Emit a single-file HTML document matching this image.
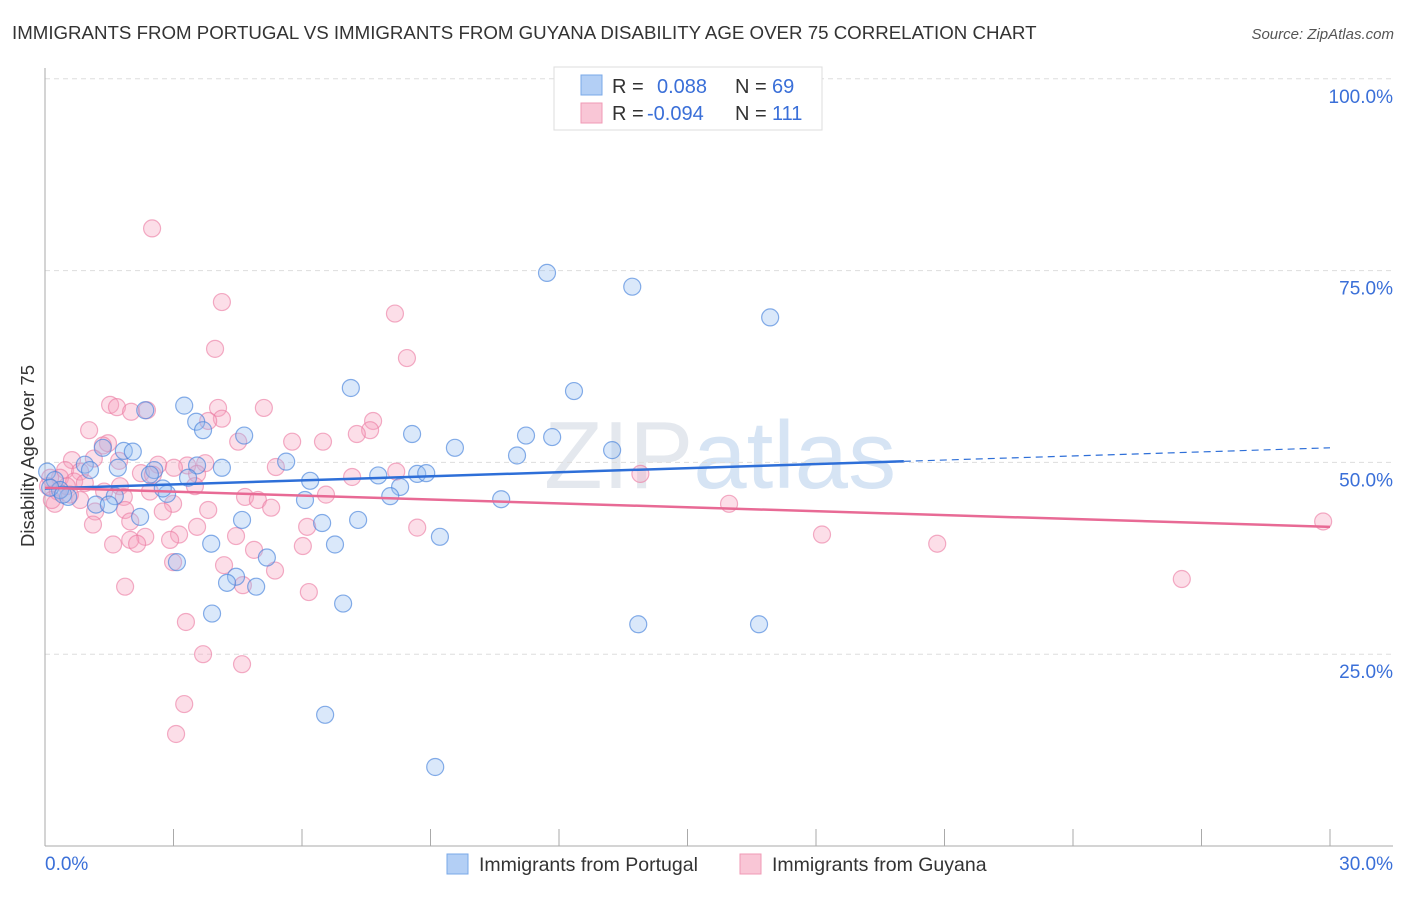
<!DOCTYPE html>
<html><head><meta charset="utf-8"><style>
body{margin:0;background:#fff;font-family:"Liberation Sans",sans-serif;}
svg text{font-family:"Liberation Sans",sans-serif;}
</style></head><body>
<svg id="chart" width="1406" height="892" xmlns="http://www.w3.org/2000/svg">
<text x="12" y="39" font-size="18.7" fill="#333">IMMIGRANTS FROM PORTUGAL VS IMMIGRANTS FROM GUYANA DISABILITY AGE OVER 75 CORRELATION CHART</text>
<text x="1394" y="39" font-size="15" fill="#555" font-style="italic" text-anchor="end">Source: ZipAtlas.com</text>
<text x="720" y="488" font-size="96" fill="#e4e8ee" text-anchor="middle" font-family="Liberation Serif">ZIP<tspan fill="#d6e4f4" font-family="Liberation Sans">atlas</tspan></text>
<g id="grid"></g>
<g id="axes"></g>
<g id="pts"></g>
<g id="lines"></g>
<text transform="translate(34,456) rotate(-90)" font-size="18.5" fill="#333" text-anchor="middle">Disability Age Over 75</text>
<g>
<rect x="554" y="67" width="268" height="63" fill="#fff" stroke="#ddd"/>
<rect x="581" y="75" width="21" height="20" fill="#b3cff5" stroke="#7aa8e8"/>
<rect x="581" y="103" width="21" height="20" fill="#f9c6d6" stroke="#f09ab5"/>
<text x="612" y="93" font-size="20" fill="#333">R =</text>
<text x="657" y="93" font-size="20" fill="#3a6fd8">0.088</text>
<text x="735" y="93" font-size="20" fill="#333">N =</text>
<text x="772" y="93" font-size="20" fill="#3a6fd8">69</text>
<text x="612" y="120" font-size="20" fill="#333">R =</text>
<text x="647" y="120" font-size="20" fill="#3a6fd8">-0.094</text>
<text x="735" y="120" font-size="20" fill="#333">N =</text>
<text x="772" y="120" font-size="20" fill="#3a6fd8">111</text>
</g>
<g>
<rect x="447" y="854" width="21" height="20" fill="#b3cff5" stroke="#7aa8e8"/>
<text x="479" y="871" font-size="19.5" fill="#333">Immigrants from Portugal</text>
<rect x="740" y="854" width="21" height="20" fill="#f9c6d6" stroke="#f09ab5"/>
<text x="772" y="871" font-size="19.5" fill="#333">Immigrants from Guyana</text>
</g>
</svg>
<script>
const xTicks=[0,3,6,9,12,15,18,21,24,27,30];
const yTicks=[25,50,75,100];
const yTickLabels=["25.0%","50.0%","75.0%","100.0%"];
const xAxisLabels=["0.0%","30.0%"];
const blueX=[11.72,13.71,16.93,7.14,12.35,3.25,2.34,3.53,3.69,4.65,8.57,11.23,11.84,9.57,13.24,11.02,1.35,1.84,2.05,5.63,4.13,3.55,0.93,1.70,2.55,6.19,7.78,8.69,8.90,3.34,2.45,8.29,8.06,2.85,2.75,6.07,10.65,1.63,0.54,1.19,1.49,2.22,4.60,6.47,7.31,3.88,6.77,9.22,3.08,5.18,4.46,4.25,4.93,6.96,3.90,13.85,16.67,6.54,9.11,0.05,0.23,0.35,0.12,1.05,0.42];
const blueY=[74.7,72.9,68.9,59.7,59.3,57.4,56.8,55.3,54.2,53.5,53.7,53.5,53.3,51.9,51.6,50.9,51.9,51.5,51.4,50.1,49.3,49.6,49.7,49.3,49.0,47.6,48.3,48.5,48.6,48.0,48.4,46.8,45.6,45.9,46.6,45.1,45.2,45.6,45.5,44.5,44.5,42.9,42.5,42.1,42.5,39.4,39.3,40.3,37.0,37.6,35.1,34.3,33.8,31.6,30.3,28.9,28.9,17.1,10.3,48.8,47.7,46.4,46.7,49.0,45.8];
const pinkX=[2.50,4.13,8.17,3.97,8.45,1.52,1.68,2.01,2.38,5.11,4.04,4.13,3.81,7.66,7.59,7.28,1.03,4.51,5.77,6.49,1.47,1.35,0.63,1.14,1.73,2.64,3.32,3.01,3.74,5.39,2.24,2.52,3.55,7.17,8.20,13.90,0.47,0.82,0.35,0.68,1.75,3.50,1.38,2.45,4.67,6.56,4.97,0.82,1.84,0.23,2.99,5.28,2.75,3.81,15.97,1.17,1.87,1.99,1.12,6.12,3.55,8.69,29.84,2.34,3.13,2.92,4.46,1.99,1.59,2.15,6.02,18.14,20.83,4.88,2.99,4.18,5.37,4.62,1.87,6.16,26.54,3.29,3.69,4.60,3.25,3.06,0.12,0.07,0.30,0.51,0.93,0.16,0.58];
const pinkY=[80.5,70.9,69.4,64.8,63.6,57.5,57.2,56.6,56.8,57.1,57.1,55.7,55.4,55.4,54.2,53.7,54.2,52.7,52.7,52.7,52.5,52.2,50.3,50.5,50.2,49.7,49.6,49.3,49.9,49.4,48.6,48.4,48.5,48.1,48.8,48.5,49.0,48.8,48.0,47.5,46.9,46.9,46.2,46.2,45.5,45.8,45.1,45.1,45.5,44.6,44.6,44.1,43.6,43.8,44.6,43.6,43.8,42.3,41.9,41.6,41.6,41.5,42.3,40.3,40.6,39.9,40.4,39.9,39.3,39.4,39.1,40.6,39.4,38.6,37.0,36.6,35.9,34.0,33.8,33.1,34.8,29.2,25.0,23.7,18.5,14.6,48.0,46.9,46.2,46.9,47.3,45.1,45.8];
const blueTrend=[46.6,51.9];
const pinkTrend=[46.7,41.6];
const NS="http://www.w3.org/2000/svg";
const X0=45,X1=1330,Y0=846,PY=7.672;
function sx(v){return X0+(v/30)*(X1-X0);}
function sy(v){return Y0-v*PY;}
function mk(tag,attrs,parent){const e=document.createElementNS(NS,tag);for(const k in attrs)e.setAttribute(k,attrs[k]);document.getElementById(parent).appendChild(e);return e;}
yTicks.forEach((t,i)=>{
 const l=mk('line',{x1:X0,x2:1393,y1:sy(t),y2:sy(t),stroke:'#ddd','stroke-dasharray':'5,4'},'grid');
 
 
 const tx=mk('text',{x:1393,y:sy(t)+24,'font-size':19,fill:'#3a6fd8','text-anchor':'end'},'grid');
 tx.textContent=yTickLabels[i];
 
 
});
const ax=mk('line',{x1:X0,x2:X0,y1:68,y2:Y0,stroke:'#aaa'},'axes');


const bx=mk('line',{x1:X0,x2:1393,y1:Y0,y2:Y0,stroke:'#aaa'},'axes');


xTicks.forEach(t=>{
 const l=mk('line',{x1:sx(t),x2:sx(t),y1:829,y2:Y0,stroke:'#aaa'},'axes');
 
 
});
const xl0=mk('text',{x:45,y:870,'font-size':19,fill:'#3a6fd8'},'axes');xl0.textContent=xAxisLabels[0];


const xl1=mk('text',{x:1393,y:870,'font-size':19,fill:'#3a6fd8','text-anchor':'end'},'axes');xl1.textContent=xAxisLabels[1];


pinkX.forEach((v,i)=>{
 const c=mk('circle',{cx:sx(v),cy:sy(pinkY[i]),r:8.5,fill:'rgba(245,160,190,0.35)',stroke:'rgba(235,120,160,0.6)','stroke-width':1.2},'pts');
 
 
});
blueX.forEach((v,i)=>{
 const c=mk('circle',{cx:sx(v),cy:sy(blueY[i]),r:8.5,fill:'rgba(150,190,240,0.35)',stroke:'rgba(70,130,220,0.65)','stroke-width':1.2},'pts');
 
 
});
const bAt=x=>blueTrend[0]+(blueTrend[1]-blueTrend[0])*x/30;
const bl=mk('line',{x1:sx(0),y1:sy(bAt(0)),x2:sx(20.05),y2:sy(bAt(20.05)),stroke:'#2e6fd8','stroke-width':2.5},'lines');


const bd=mk('line',{x1:sx(20.05),y1:sy(bAt(20.05)),x2:sx(30),y2:sy(bAt(30)),stroke:'#2e6fd8','stroke-width':1.2,'stroke-dasharray':'7,5'},'lines');


const pl=mk('line',{x1:sx(0),y1:sy(pinkTrend[0]),x2:sx(30),y2:sy(pinkTrend[1]),stroke:'#e86a95','stroke-width':2.5},'lines');


</script>
</body></html>
